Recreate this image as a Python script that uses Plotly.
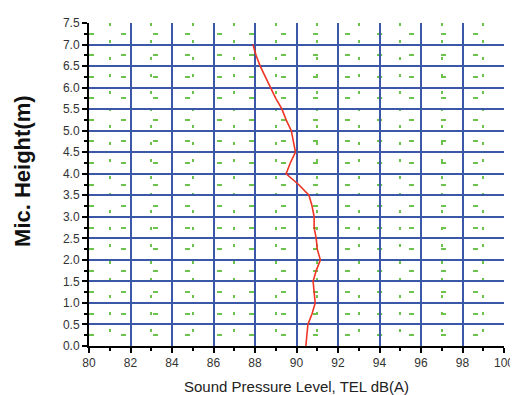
import plotly.graph_objects as go

heights = [0.0, 0.25, 0.5, 0.75, 1.0, 1.25, 1.5, 1.75, 2.0, 2.25, 2.5, 2.75, 3.0, 3.25,
           3.5, 3.75, 4.0, 4.25, 4.5, 4.75, 5.0, 5.25, 5.5, 5.75, 6.0, 6.25, 6.5, 6.75, 7.0]
spl = [90.45, 90.5, 90.55, 90.75, 90.9, 90.85, 90.8, 90.95, 91.15, 91.0, 90.95, 90.85,
       90.85, 90.75, 90.6, 90.1, 89.5, 89.7, 89.95, 89.85, 89.75, 89.5, 89.3, 89.0,
       88.75, 88.5, 88.25, 88.05, 87.9]

x_ticks = list(range(80, 101, 2))
y_ticks = [i * 0.5 for i in range(16)]
y_labels = [f"{v:.1f}" for v in y_ticks]

fig = go.Figure()
fig.add_trace(go.Scatter(x=spl, y=heights, mode="lines",
                         line=dict(color="#ee3524", width=1.6), showlegend=False))

font_ticks = dict(family="Liberation Sans, Arial", size=12, color="#333333")
fig.update_xaxes(range=[80, 100], tickvals=x_ticks, ticktext=[str(v) for v in x_ticks],
                 showgrid=True, gridcolor="#3a57a8", gridwidth=2, automargin=False,
                 showline=True, linecolor="black", linewidth=2,
                 ticks="outside", ticklen=5, tickwidth=1.5, tickcolor="black",
                 tickfont=font_ticks, zeroline=False,
                 minor=dict(dtick=1, showgrid=True, gridcolor="#6cc24a", gridwidth=1.5,
                            griddash="3px,14px", ticks="outside", ticklen=3, tickcolor="black"))
fig.update_yaxes(range=[0, 7.5], tickvals=y_ticks, ticktext=y_labels,
                 showgrid=True, gridcolor="#3a57a8", gridwidth=2, automargin=False,
                 showline=True, linecolor="black", linewidth=2,
                 ticks="outside", ticklen=5, tickwidth=1.5, tickcolor="black",
                 tickfont=font_ticks, zeroline=False,
                 minor=dict(dtick=0.25, showgrid=True, gridcolor="#6cc24a", gridwidth=1.5,
                            griddash="5px,27px", ticks="outside", ticklen=3, tickcolor="black"))

fig.add_annotation(text="Sound Pressure Level, TEL dB(A)", xref="paper", yref="paper",
                   x=0.5, y=-0.124, xanchor="center", yanchor="middle", showarrow=False,
                   font=dict(family="Liberation Sans, Arial", size=15, color="#222222"))
fig.add_annotation(text="<b>Mic. Height(m)</b>", xref="paper", yref="paper",
                   x=-0.159, y=0.542, xanchor="center", yanchor="middle", showarrow=False,
                   textangle=-90,
                   font=dict(family="Liberation Sans, Arial", size=22, color="#111111"))

fig.update_layout(width=518, height=395, margin=dict(l=81, r=22, t=15, b=57),
                  plot_bgcolor="white", paper_bgcolor="white")
fig.write_html("out.html")
